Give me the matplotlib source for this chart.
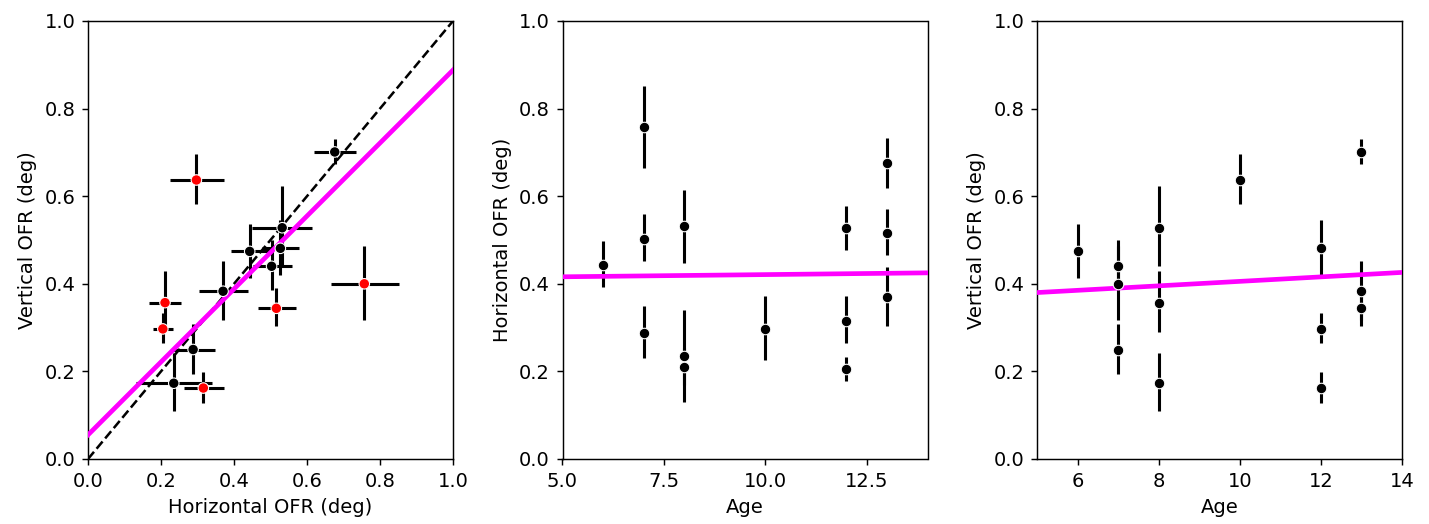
import numpy as np
import matplotlib
matplotlib.use("Agg")
import matplotlib.pyplot as plt

# ---- data ----
age   = [6, 7, 7, 7, 8, 8, 8, 10, 12, 12, 12, 13, 13, 13]
hor   = [0.443, 0.757, 0.503, 0.288, 0.532, 0.235, 0.211, 0.297, 0.527, 0.316, 0.205, 0.676, 0.516, 0.370]
hor_lo = [0.393, 0.665, 0.453, 0.231, 0.448, 0.131, 0.168, 0.226, 0.477, 0.264, 0.179, 0.619, 0.465, 0.304]
hor_hi = [0.498, 0.852, 0.559, 0.349, 0.615, 0.340, 0.254, 0.372, 0.578, 0.372, 0.234, 0.734, 0.570, 0.438]
ver   = [0.474, 0.400, 0.440, 0.250, 0.528, 0.173, 0.357, 0.637, 0.481, 0.162, 0.297, 0.701, 0.344, 0.383]
ver_lo = [0.414, 0.317, 0.386, 0.195, 0.441, 0.110, 0.289, 0.582, 0.420, 0.127, 0.265, 0.673, 0.304, 0.317]
ver_hi = [0.536, 0.486, 0.500, 0.308, 0.624, 0.241, 0.430, 0.696, 0.546, 0.198, 0.333, 0.731, 0.390, 0.453]
flagged = [False, True, False, False, False, False, True, True, False, True, True, False, True, False]

# regression lines (value at x-start, value at x-end)
fit_hv = (0.055, 0.888)     # at x=0 and x=1
fit_age_h = (0.416, 0.425)  # at age 5 and 14
fit_age_v = (0.380, 0.426)  # at age 5 and 14

age = np.array(age, float)
hor = np.array(hor); hor_lo = np.array(hor_lo); hor_hi = np.array(hor_hi)
ver = np.array(ver); ver_lo = np.array(ver_lo); ver_hi = np.array(ver_hi)
flagged = np.array(flagged)

plt.rcParams['font.size'] = 10.8

fig = plt.figure(figsize=(1429/130, 524/130), dpi=130)
fig.subplots_adjust(left=88/1429, right=1402/1429, top=1-21/524, bottom=1-459/524, wspace=0.30)
axes = fig.subplots(1, 3)

MAG = '#ff00ff'
EB = dict(fmt='none', ecolor='black', elinewidth=1.7, capsize=0, zorder=2)
MK = dict(marker='o', s=34, edgecolors='white', linewidths=0.6, zorder=4)

# Panel 1
ax = axes[0]
ax.errorbar(hor, ver, xerr=[hor - hor_lo, hor_hi - hor], yerr=[ver - ver_lo, ver_hi - ver], **EB)
ax.plot([0, 1], [0, 1], '--', color='black', lw=1.4, zorder=3)
ax.plot([0, 1], list(fit_hv), color=MAG, lw=2.6, zorder=3.5)
cols = np.where(flagged, 'red', 'black')
ax.scatter(hor, ver, c=cols, **MK)
ax.set_xlim(0, 1); ax.set_ylim(0, 1)
ax.set_xlabel('Horizontal OFR (deg)')
ax.set_ylabel('Vertical OFR (deg)')

# Panel 2
ax = axes[1]
ax.errorbar(age, hor, yerr=[hor - hor_lo, hor_hi - hor], **EB)
ax.plot([5, 14], list(fit_age_h), color=MAG, lw=2.6, zorder=3.5)
ax.scatter(age, hor, c='black', **MK)
ax.set_xlim(5, 14); ax.set_ylim(0, 1)
ax.set_xticks([5.0, 7.5, 10.0, 12.5])
ax.set_xlabel('Age')
ax.set_ylabel('Horizontal OFR (deg)')

# Panel 3
ax = axes[2]
ax.errorbar(age, ver, yerr=[ver - ver_lo, ver_hi - ver], **EB)
ax.plot([5, 14], list(fit_age_v), color=MAG, lw=2.6, zorder=3.5)
ax.scatter(age, ver, c='black', **MK)
ax.set_xlim(5, 14); ax.set_ylim(0, 1)
ax.set_xticks([6, 8, 10, 12, 14])
ax.set_xlabel('Age')
ax.set_ylabel('Vertical OFR (deg)')

fig.savefig('out.png', dpi=130)
